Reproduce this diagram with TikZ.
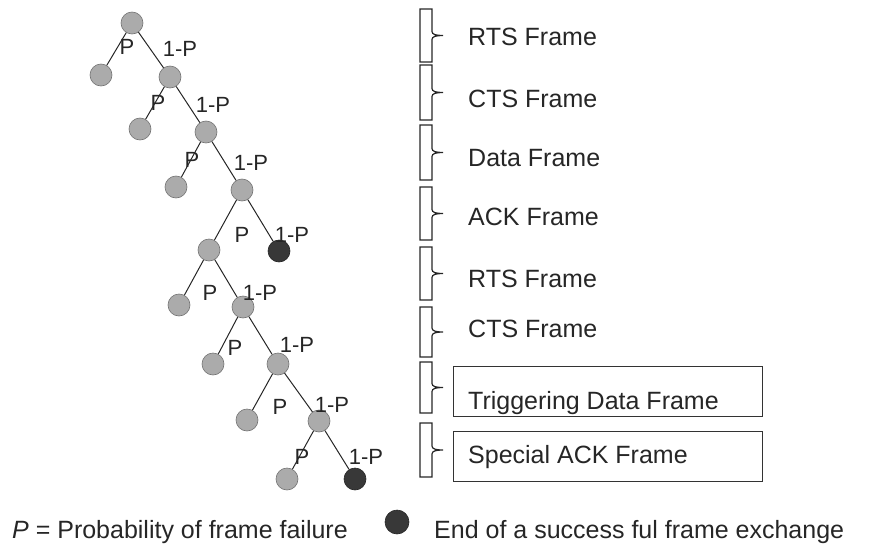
\documentclass[tikz,border=0pt]{standalone}
\usepackage{fontspec}
\setmainfont{Liberation Sans}
\begin{document}
\begin{tikzpicture}[x=1pt,y=-1pt,
  st/.style={circle,minimum size=22pt,inner sep=0pt,fill=black!33,draw=black!55,line width=0.6pt},
  en/.style={circle,minimum size=22pt,inner sep=0pt,fill=black!78,draw=black!85,line width=0.6pt},
  edg/.style={draw=black!85,line width=1pt},
  pl/.style={font=\fontsize{22}{26}\selectfont,inner sep=0pt,text=black!85},
  fl/.style={font=\fontsize{25}{30}\selectfont,anchor=base west,inner sep=0pt,text=black!85},
  brc/.style={draw=black!85,line width=1.2pt},
  fbox/.style={draw=black!80,line width=0.9pt,minimum width=309pt,minimum height=50pt,inner sep=0pt}
  ]
\useasboundingbox (0,0) rectangle (879,549);
% tree nodes
\node[st] (a0) at (132,23) {};
\node[st] (b1) at (101,75) {};
\node[st] (a1) at (170,77) {};
\node[st] (b2) at (140,129) {};
\node[st] (a2) at (206,132) {};
\node[st] (b3) at (176,187) {};
\node[st] (a3) at (242,190) {};
\node[st] (a4) at (209,250) {};
\node[en] (e4) at (279,251) {};
\node[st] (b5) at (179,305) {};
\node[st] (a5) at (243,307) {};
\node[st] (b6) at (213,364) {};
\node[st] (a6) at (278,364) {};
\node[st] (b7) at (247,420) {};
\node[st] (a7) at (319,421) {};
\node[st] (b8) at (287,479) {};
\node[en] (e8) at (355,479) {};
% edges
\foreach \p/\c in {a0/b1,a0/a1,a1/b2,a1/a2,a2/b3,a2/a3,a3/a4,a3/e4,a4/b5,a4/a5,a5/b6,a5/a6,a6/b7,a6/a7,a7/b8,a7/e8}
  \draw[edg] (\p) -- (\c);
% edge labels
\node[pl] (p0) at (127,47) {P};  \node[pl] (q0) at (180,49) {1-P};
\node[pl] (p1) at (158,103) {P}; \node[pl] (q1) at (213,105) {1-P};
\node[pl] (p2) at (192,160) {P}; \node[pl] (q2) at (251,163) {1-P};
\node[pl] (p3) at (242,235) {P}; \node[pl] (q3) at (292,235) {1-P};
\node[pl] (p4) at (210,293) {P}; \node[pl] (q4) at (260,293) {1-P};
\node[pl] (p5) at (235,348) {P}; \node[pl] (q5) at (297,345) {1-P};
\node[pl] (p6) at (280,407) {P}; \node[pl] (q6) at (332,405) {1-P};
\node[pl] (p7) at (302,457) {P}; \node[pl] (q7) at (366,457) {1-P};
% braces
\foreach \t/\b in {9/62,65/120,125/180,187/240,247/300,307/357,362/413,423/477}{
  \pgfmathsetmacro\m{(\t+\b)/2}
  \draw[brc] (432,\t) -- (420,\t) -- (420,\b) -- (432,\b) -- (432,\m+4)
    .. controls (432,\m+1) and (436,\m) .. (443,\m)
    .. controls (436,\m) and (432,\m-1) .. (432,\m-4) -- cycle;
}
% boxes
\node[fbox] (tbox) at (607.5,391) {};
\node[fbox] (sbox) at (607.5,456) {};
% frame labels
\node[fl] (f1) at (468,45) {RTS Frame};
\node[fl] (f2) at (468,107) {CTS Frame};
\node[fl] (f3) at (468,166) {Data Frame};
\node[fl] (f4) at (468,225) {ACK Frame};
\node[fl] (f5) at (468,287) {RTS Frame};
\node[fl] (f6) at (468,337) {CTS Frame};
\node[fl] (f7) at (468,409) {Triggering Data Frame};
\node[fl] (f8) at (468,463) {Special ACK Frame};
% legend
\node[fl] (legp) at (12,538) {\textit{P} = Probability of frame failure};
\node[en,minimum size=24pt] (legdot) at (397,522) {};
\node[fl] (lege) at (434,538) {End of a success ful frame exchange};
\end{tikzpicture}
\end{document}
